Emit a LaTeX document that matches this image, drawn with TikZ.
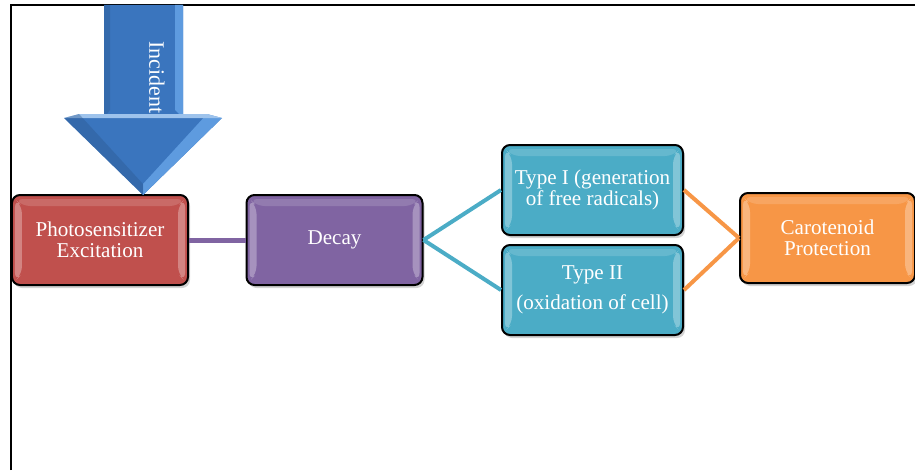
\documentclass[tikz,border=0pt]{standalone}
\usepackage{fontspec}
\setmainfont{Liberation Serif}
\usetikzlibrary{shadows}
\definecolor{photored}{HTML}{C0504D}
\definecolor{decaypurple}{HTML}{8064A2}
\definecolor{typeteal}{HTML}{4BACC6}
\definecolor{carotorange}{HTML}{F79646}
\definecolor{arrowblue}{HTML}{3A75BE}
\definecolor{arrowlight}{HTML}{5E9BDF}
\tikzset{
  stagebox/.style={draw=black, line width=0.4mm, rounded corners=0.16cm,
    minimum width=3.52cm, minimum height=1.8cm, text=white, align=center,
    font=\fontsize{12}{12}\selectfont,
    drop shadow={shadow xshift=0.04cm, shadow yshift=-0.06cm, opacity=0.35},
    path picture={
      \fill[white, opacity=0.3] ([xshift=0.06cm, yshift=-0.08cm]path picture bounding box.north west)
        -- ([xshift=0.2cm, yshift=-0.22cm]path picture bounding box.north west)
        -- ([xshift=0.2cm, yshift=0.22cm]path picture bounding box.south west)
        -- ([xshift=0.06cm, yshift=0.08cm]path picture bounding box.south west) -- cycle;
      \fill[white, opacity=0.3] ([xshift=-0.06cm, yshift=-0.08cm]path picture bounding box.north east)
        -- ([xshift=-0.2cm, yshift=-0.22cm]path picture bounding box.north east)
        -- ([xshift=-0.2cm, yshift=0.22cm]path picture bounding box.south east)
        -- ([xshift=-0.06cm, yshift=0.08cm]path picture bounding box.south east) -- cycle;
      \fill[white, opacity=0.15] ([xshift=0.06cm, yshift=-0.08cm]path picture bounding box.north west)
        -- ([xshift=-0.06cm, yshift=-0.08cm]path picture bounding box.north east)
        -- ([xshift=-0.2cm, yshift=-0.22cm]path picture bounding box.north east)
        -- ([xshift=0.2cm, yshift=-0.22cm]path picture bounding box.north west) -- cycle;
    }},
  link/.style={line width=#1, line cap=butt},
}
\begin{document}
\begin{tikzpicture}
			%%%%% FRAME %%%%%
			\useasboundingbox (0, 0) rectangle (18.3, 9.4);
			\draw[line width=0.4mm] (0.22, 0) -- (0.22, 9.3) -- (18.3, 9.3);
			
			%%%%% STAGES %%%%%
			\node[stagebox, fill=photored] (photo) at (2.0, 4.6) {Photosensitizer\\Excitation};
			\node[stagebox, fill=decaypurple] (decay) at (6.69, 4.6) {Decay};
			\node[stagebox, fill=typeteal, minimum width=3.62cm] (typeI) at (11.85, 5.6) {Type I (generation\\of free radicals)};
			\node[stagebox, fill=typeteal, minimum width=3.62cm] (typeII) at (11.85, 3.6) {Type II\\[5pt](oxidation of cell)};
			\node[stagebox, fill=carotorange, minimum width=3.5cm] (carot) at (16.55, 4.64) {Carotenoid\\Protection};
			
			%%%%% LINKS %%%%%
			\draw[link=0.1cm, decaypurple] (photo.east) -- (decay.west);
			\draw[link=0.08cm, typeteal] (decay.east) -- (typeI.west);
			\draw[link=0.08cm, typeteal] (decay.east) -- (typeII.west);
			\draw[link=0.08cm, carotorange] (typeI.east) -- (carot.west);
			\draw[link=0.08cm, carotorange] (typeII.east) -- (carot.west);
			
			%%%%% INCIDENT ARROW %%%%%
			\coordinate (tip) at (2.86, 5.5);
			\fill[arrowblue]
				(2.08, 9.3) -- (3.66, 9.3) -- (3.66, 7.04) -- (4.44, 7.04) -- (tip)
				-- (1.28, 7.04) -- (2.08, 7.04) -- cycle;
			\fill[arrowblue!70!black, opacity=0.3] (2.08, 9.3) -- (2.2, 9.3) -- (2.2, 7.2) -- (2.08, 7.04) -- cycle;
			\fill[arrowlight] (3.5, 9.3) -- (3.66, 9.3) -- (3.66, 7.04) -- (3.5, 7.2) -- cycle;
			\fill[arrowlight] (4.44, 7.04) -- (tip) -- (2.86, 5.72) -- (4.14, 7.12) -- cycle;
			\fill[arrowlight!60!white] (1.28, 7.04) -- (4.44, 7.04) -- (4.14, 7.12) -- (1.58, 7.12) -- cycle;
			\fill[arrowblue!75!black, opacity=0.4] (1.28, 7.04) -- (tip) -- (2.86, 5.72) -- (1.58, 7.12) -- cycle;
			\node[rotate=-90, text=white, font=\fontsize{12.5}{12}\selectfont] (incident) at (3.14, 7.85) {Incident};
			
\end{tikzpicture}
\end{document}
